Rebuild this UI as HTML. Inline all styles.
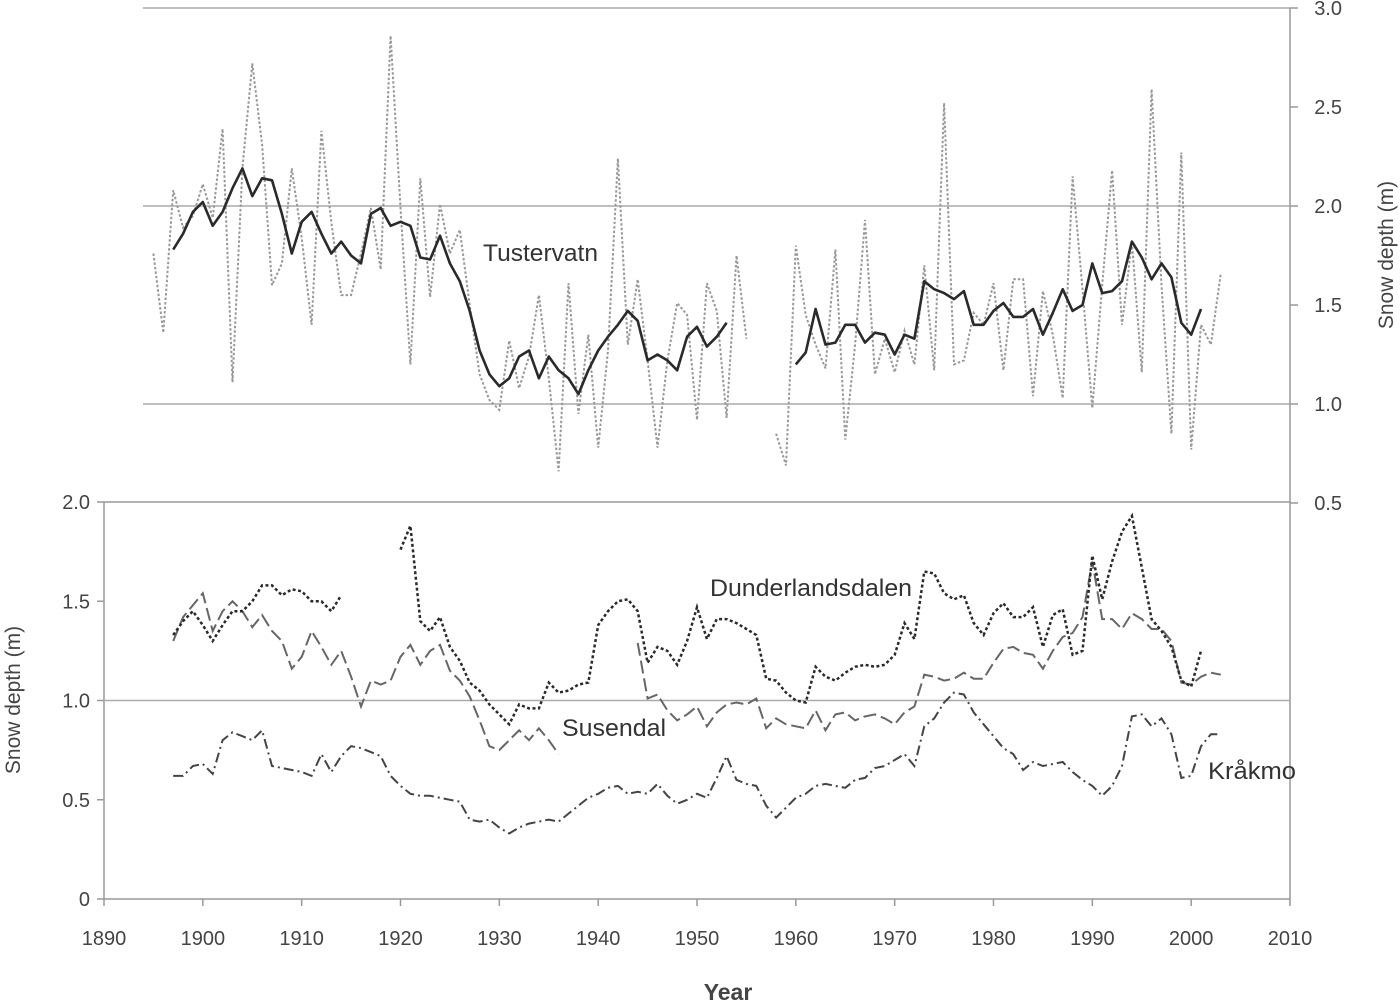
<!DOCTYPE html>
<html><head><meta charset="utf-8"><style>
html,body{margin:0;padding:0;background:#fff}
svg{display:block;font-family:"Liberation Sans",sans-serif}
</style></head><body>
<svg id="chart" width="1400" height="1003" viewBox="0 0 1400 1003" xmlns="http://www.w3.org/2000/svg"></svg>
<script>
const tusterYears=[];for(let y=1895;y<=2003;y++)tusterYears.push(y);
const tusterAnnual=[1.76,1.36,2.08,1.89,1.95,2.11,1.94,2.39,1.11,2.19,2.72,2.31,1.60,1.71,2.19,1.84,1.40,2.38,1.92,1.55,1.55,1.76,1.99,1.68,2.86,1.99,1.20,2.14,1.54,2.01,1.76,1.88,1.50,1.15,1.02,0.97,1.32,1.08,1.24,1.55,1.13,0.66,1.61,0.95,1.35,0.78,1.27,2.24,1.30,1.63,1.22,0.78,1.22,1.51,1.45,0.92,1.61,1.47,0.93,1.75,1.33,null,null,0.85,0.69,1.80,1.45,1.30,1.18,1.78,0.82,1.30,1.93,1.15,1.33,1.16,1.37,1.20,1.70,1.17,2.52,1.20,1.22,1.46,1.40,1.61,1.17,1.63,1.63,1.04,1.57,1.35,1.03,2.15,1.58,0.98,1.60,2.18,1.40,1.82,1.16,2.59,1.60,0.85,2.27,0.77,1.40,1.30,1.66];
const tusterSmooth=[null,null,1.78,1.86,1.97,2.02,1.90,1.97,2.09,2.19,2.05,2.14,2.13,1.96,1.76,1.92,1.97,1.86,1.76,1.82,1.75,1.71,1.96,1.99,1.90,1.92,1.90,1.74,1.73,1.85,1.71,1.62,1.47,1.27,1.15,1.09,1.13,1.24,1.27,1.13,1.24,1.17,1.13,1.05,1.17,1.27,1.34,1.40,1.47,1.42,1.22,1.25,1.22,1.17,1.34,1.39,1.29,1.34,1.41,null,null,null,null,null,null,1.20,1.26,1.48,1.30,1.31,1.40,1.40,1.31,1.36,1.35,1.25,1.35,1.33,1.62,1.58,1.56,1.53,1.57,1.40,1.40,1.47,1.51,1.44,1.44,1.48,1.35,1.46,1.58,1.47,1.50,1.71,1.56,1.57,1.62,1.82,1.74,1.63,1.71,1.64,1.41,1.35,1.48,null,null];
const bottomYears=[];for(let y=1897;y<=2003;y++)bottomYears.push(y);
const dunderlands=[1.33,1.40,1.45,1.38,1.30,1.38,1.45,1.45,1.50,1.58,1.58,1.53,1.56,1.55,1.50,1.50,1.45,1.53,null,null,null,null,null,1.76,1.88,1.40,1.35,1.42,1.27,1.20,1.09,1.05,0.98,0.93,0.88,0.98,0.96,0.96,1.09,1.04,1.05,1.08,1.09,1.38,1.45,1.50,1.51,1.45,1.19,1.27,1.25,1.18,1.30,1.47,1.31,1.41,1.41,1.39,1.36,1.33,1.11,1.10,1.04,1.00,0.99,1.17,1.12,1.10,1.14,1.17,1.18,1.17,1.18,1.23,1.39,1.31,1.65,1.64,1.54,1.51,1.53,1.39,1.33,1.44,1.49,1.42,1.42,1.47,1.27,1.43,1.46,1.23,1.25,1.73,1.51,1.70,1.85,1.93,1.67,1.41,1.35,1.27,1.10,1.07,1.25,null,null];
const susendal=[1.30,1.42,1.48,1.54,1.35,1.45,1.50,1.45,1.37,1.43,1.35,1.30,1.16,1.22,1.35,1.27,1.18,1.25,1.12,0.97,1.10,1.08,1.10,1.22,1.28,1.18,1.25,1.28,1.15,1.10,1.02,0.90,0.77,0.75,0.80,0.85,0.80,0.86,0.80,0.73,null,null,null,null,null,null,null,1.29,1.01,1.03,0.95,0.90,0.93,0.97,0.87,0.94,0.98,0.99,0.98,1.01,0.86,0.91,0.88,0.87,0.86,0.95,0.85,0.93,0.94,0.90,0.92,0.93,0.91,0.88,0.94,0.97,1.13,1.12,1.10,1.11,1.14,1.11,1.11,1.19,1.26,1.27,1.24,1.23,1.16,1.25,1.32,1.34,1.42,1.70,1.41,1.41,1.36,1.44,1.41,1.36,1.36,1.30,1.09,1.08,1.12,1.14,1.13];
const krakmo=[0.62,0.62,0.67,0.68,0.63,0.80,0.84,0.82,0.80,0.85,0.67,0.66,0.65,0.64,0.62,0.73,0.64,0.72,0.77,0.76,0.74,0.72,0.62,0.57,0.53,0.52,0.52,0.51,0.50,0.49,0.40,0.39,0.40,0.36,0.33,0.36,0.38,0.39,0.40,0.39,0.43,0.47,0.51,0.53,0.56,0.57,0.53,0.54,0.53,0.58,0.52,0.48,0.50,0.53,0.51,0.61,0.72,0.60,0.58,0.57,0.47,0.41,0.46,0.51,0.53,0.57,0.58,0.57,0.56,0.60,0.61,0.66,0.67,0.70,0.73,0.67,0.87,0.91,0.99,1.04,1.03,0.94,0.88,0.82,0.76,0.73,0.65,0.69,0.67,0.68,0.69,0.64,0.60,0.57,0.52,0.57,0.67,0.92,0.93,0.87,0.91,0.83,0.61,0.62,0.77,0.83,0.83];
const xTicks=[1890,1900,1910,1920,1930,1940,1950,1960,1970,1980,1990,2000,2010];
const topTicks=[3.0,2.5,2.0,1.5,1.0,0.5];
const topGrid=[3.0,2.0,1.0];
const bottomTicks=[2.0,1.5,1.0,0.5,0];
const bottomGrid=[1.0];

const NS="http://www.w3.org/2000/svg";
const svg=document.getElementById('chart');
const X0=104,X1=1290;
function xs(y){return X0+(y-1890)*(X1-X0)/120;}
function ysTop(v){return 404-(v-1)*198;}
function ysBot(v){return 899-v*198.5;}
function el(tag,attrs,parent){const e=document.createElementNS(NS,tag);for(const k in attrs)e.setAttribute(k,attrs[k]);(parent||svg).appendChild(e);return e;}
function pathFrom(years,vals,ys){let d='',pen=false;years.forEach((yr,i)=>{const v=vals[i];if(v===null||v===undefined){pen=false;return;}d+=(pen?'L':'M')+xs(yr).toFixed(1)+' '+ys(v).toFixed(1)+' ';pen=true;});return d;}

// top gridlines
topGrid.forEach(v=>{
 const l=el('line',{x1:143,x2:X1,y1:ysTop(v),y2:ysTop(v),stroke:'#aaa','stroke-width':1.5});
 
 
});
const ra=el('line',{x1:X1,x2:X1,y1:ysTop(3),y2:ysTop(0.5),stroke:'#999','stroke-width':1.5});


topTicks.forEach(v=>{
 el('line',{x1:X1,x2:X1+8,y1:ysTop(v),y2:ysTop(v),stroke:'#999','stroke-width':1.5});
 const t=el('text',{x:1342,y:ysTop(v)+7,'font-size':20,fill:'#444','text-anchor':'end'});
 t.textContent=v.toFixed(1);
 
 
});
const rt=el('text',{x:1393,y:255,'font-size':21,fill:'#444','text-anchor':'middle',transform:'rotate(-90 1393 255)'});
rt.textContent='Snow depth (m)';



// bottom frame
const frame=el('rect',{x:X0,y:ysBot(2),width:X1-X0,height:ysBot(0)-ysBot(2),fill:'none',stroke:'#999','stroke-width':1.5});


bottomGrid.forEach(v=>{
 const l=el('line',{x1:X0,x2:X1,y1:ysBot(v),y2:ysBot(v),stroke:'#aaa','stroke-width':1.5});
 
 
});
bottomTicks.forEach(v=>{
 el('line',{x1:X0-7,x2:X0,y1:ysBot(v),y2:ysBot(v),stroke:'#999','stroke-width':1.5});
 const t=el('text',{x:X0-14,y:ysBot(v)+7,'font-size':20,fill:'#444','text-anchor':'end'});
 t.textContent=v===0?'0':v.toFixed(1);
 
 
});
xTicks.forEach(yr=>{
 el('line',{x1:xs(yr),x2:xs(yr),y1:899,y2:906,stroke:'#999','stroke-width':1.5});
 const t=el('text',{x:xs(yr),y:945,'font-size':20,fill:'#444','text-anchor':'middle'});
 t.textContent=yr;
 
 
});
const xt=el('text',{x:728,y:1000,'font-size':23,fill:'#444','text-anchor':'middle','font-weight':'bold'});
xt.textContent='Year';


const lt=el('text',{x:20,y:700,'font-size':21,fill:'#444','text-anchor':'middle',transform:'rotate(-90 20 700)'});
lt.textContent='Snow depth (m)';



// series
const s1=el('path',{d:pathFrom(tusterYears,tusterAnnual,ysTop),fill:'none',stroke:'#999','stroke-width':2,'stroke-dasharray':'2.5 2'});


const s2=el('path',{d:pathFrom(tusterYears,tusterSmooth,ysTop),fill:'none',stroke:'#2a2a2a','stroke-width':2.6,'stroke-linejoin':'round'});


const s3=el('path',{d:pathFrom(bottomYears,susendal,ysBot),fill:'none',stroke:'#666','stroke-width':2,'stroke-dasharray':'13 5'});


const s4=el('path',{d:pathFrom(bottomYears,krakmo,ysBot),fill:'none',stroke:'#444','stroke-width':2,'stroke-dasharray':'10 4 2 4'});


const s5=el('path',{d:pathFrom(bottomYears,dunderlands,ysBot),fill:'none',stroke:'#2a2a2a','stroke-width':2.5,'stroke-dasharray':'3 2.5'});



// labels
function lab(txt,x,y,w,name){const t=el('text',{x:x,y:y,'font-size':24,fill:'#333',textLength:w,lengthAdjust:'spacingAndGlyphs'});t.textContent=txt;}
lab('Tustervatn',483,261,115,'tustervatn-label');
lab('Dunderlandsdalen',710,596,202,'dunderlandsdalen-label');
lab('Susendal',562,736,104,'susendal-label');
lab('Kråkmo',1208,779,88,'krakmo-label');
</script>
</body></html>
